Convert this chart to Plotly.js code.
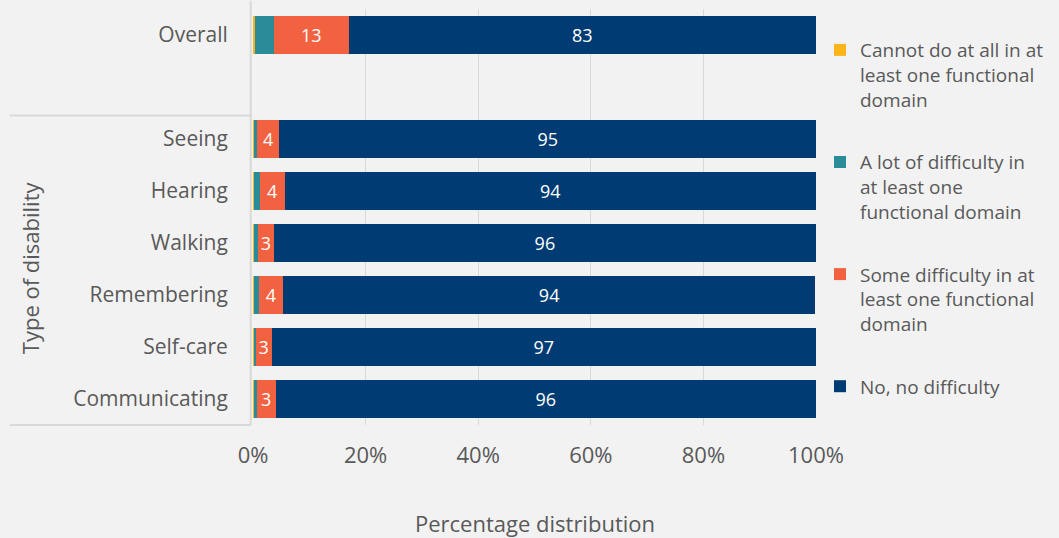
<!DOCTYPE html>
<html>
<head>
<meta charset="utf-8">
<script src="https://cdn.plot.ly/plotly-3.0.1.min.js"></script>
<style>html,body{margin:0;padding:0;background:#F2F2F2;}#chart{width:1059px;height:538px;}</style>
</head>
<body>
<div id="chart"></div>
<script>
const categories = ["Overall", " ", "Seeing", "Hearing", "Walking", "Remembering", "Self-care", "Communicating"];
const cannotDo   = [0.4, null, 0.1, 0.2, 0.1, 0.1, 0.1, 0.1];
const aLot       = [3.3, null, 0.6, 1.0, 0.8, 0.9, 0.4, 0.6];
const someDiff   = [13.3, null, 4.0, 4.4, 2.8, 4.4, 2.8, 3.3];
const noDiff     = [83.0, null, 95.3, 94.4, 96.3, 94.4, 96.7, 96.0];
const seriesNames = [
  "Cannot do at all in at<br>least one functional<br>domain",
  "A lot of difficulty in<br>at least one<br>functional domain",
  "Some difficulty in at<br>least one functional<br>domain",
  "No, no difficulty"
];
const xTickVals = [0, 20, 40, 60, 80, 100];
const xTickText = ["0%", "20%", "40%", "60%", "80%", "100%"];

const colors = ["#FBB41A", "#2A8B99", "#F26140", "#003B73"];
const FONT = "Open Sans, sans-serif";
const series = [cannotDo, aLot, someDiff, noDiff];
const showText = [false, false, true, true];

const traces = series.map((vals, i) => ({
  type: "bar",
  orientation: "h",
  y: categories,
  x: vals,
  name: seriesNames[i],
  legendgroup: "g" + i,
  marker: {color: colors[i]},
  texttemplate: showText[i] ? "%{x:.0f}" : "",
  textposition: showText[i] ? "inside" : "none",
  insidetextanchor: "middle",
  textangle: 0,
  constraintext: "none",
  textfont: {color: "#FFFFFF", size: 18, family: FONT},
  hoverinfo: "x+name"
}));

const layout = {
  width: 1059, height: 538,
  paper_bgcolor: "#F2F2F2", plot_bgcolor: "#F2F2F2",
  barmode: "stack", bargap: 0.28,
  margin: {l: 253, r: 243, t: 9, b: 113},
  font: {family: FONT, color: "#595959"},
  xaxis: {
    range: [0, 100], tickvals: xTickVals, ticktext: xTickText,
    showgrid: true, gridcolor: "#D9D9D9", gridwidth: 1.3,
    zeroline: false, showline: false,
    ticks: "outside", ticklen: 11, tickcolor: "rgba(0,0,0,0)",
    tickfont: {size: 22, color: "#595959", family: FONT},
    fixedrange: true
  },
  yaxis: {
    type: "category", categoryorder: "array", categoryarray: categories,
    autorange: "reversed",
    showgrid: false, zeroline: false, showline: false,
    ticks: "outside", ticklen: 20, tickcolor: "rgba(0,0,0,0)",
    tickfont: {size: 21, color: "#595959", family: FONT},
    fixedrange: true
  },
  legend: {
    x: 1.0071, xanchor: "left", y: 0.947, yanchor: "top",
    bgcolor: "rgba(0,0,0,0)",
    font: {size: 19, color: "#595959", family: FONT},
    traceorder: "grouped", tracegroupgap: 35, valign: "top",
    itemwidth: 30
  },
  shapes: [
    {type: "line", xref: "paper", yref: "paper", x0: -0.004, x1: -0.004, y0: 0, y1: 1.02,
     line: {color: "#D9D9D9", width: 2}},
    {type: "line", xref: "paper", yref: "y", x0: -0.432, x1: -0.004, y0: 1.55, y1: 1.55,
     line: {color: "#D9D9D9", width: 2}},
    {type: "line", xref: "paper", yref: "paper", x0: -0.432, x1: -0.004, y0: 0, y1: 0,
     line: {color: "#D9D9D9", width: 2}}
  ],
  annotations: [
    {text: "Type of disability", xref: "paper", yref: "paper", x: -0.396, y: 0.377,
     xanchor: "center", yanchor: "middle", textangle: -90, showarrow: false,
     font: {size: 22, color: "#595959", family: FONT}},
    {text: "Percentage distribution", xref: "paper", yref: "paper", x: 0.5, y: -0.236,
     xanchor: "center", yanchor: "middle", showarrow: false,
     font: {size: 22, color: "#595959", family: FONT}}
  ]
};

Plotly.newPlot("chart", traces, layout, {displayModeBar: false, staticPlot: true});
</script>
</body>
</html>
